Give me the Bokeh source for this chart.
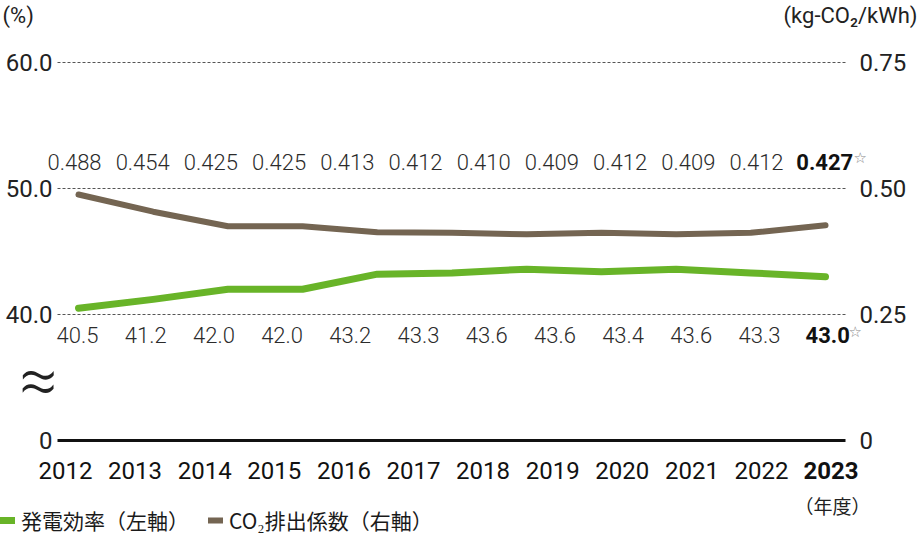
from bokeh.plotting import figure
from bokeh.models import Range1d, ColumnDataSource, Legend, LegendItem
from bokeh.core.properties import value
from bokeh.embed import file_html
from bokeh.resources import INLINE

# ---------------- data ----------------
years = [2012, 2013, 2014, 2015, 2016, 2017, 2018, 2019, 2020, 2021, 2022, 2023]
efficiency = [40.5, 41.2, 42.0, 42.0, 43.2, 43.3, 43.6, 43.6, 43.4, 43.6, 43.3, 43.0]
co2 = [0.488, 0.454, 0.425, 0.425, 0.413, 0.412, 0.410, 0.409, 0.412, 0.409, 0.412, 0.427]
# vertices of the drawn lines as they appear in the picture (11 vertices)
line_eff = [40.5, 41.2, 42.0, 42.0, 43.2, 43.3, 43.6, 43.4, 43.6, 43.3, 43.0]
line_co2 = [0.488, 0.454, 0.425, 0.425, 0.413, 0.412, 0.409, 0.412, 0.409, 0.412, 0.427]
left_ticks = [30, 40, 50, 60]          # 30 stands for the broken-axis "0"
left_tick_labels = ["0", "40.0", "50.0", "60.0"]
right_ticks = [0, 0.25, 0.5, 0.75]
right_tick_labels = ["0", "0.25", "0.50", "0.75"]
grid_ticks = [40, 50, 60]
highlight_year = 2023

# ---------------- layout (pixels) ----------------
W, H = 920, 538
GREEN = "#68b428"
BROWN = "#746552"
LIGHT = "Roboto Light, Roboto"
REG = "Roboto"
JP_FONT = "Noto Sans CJK JP"

YEAR_X0, YEAR_DX = 65.0, 69.6      # year label centres
LAB_X0, LAB_DX = 75.5, 68.2        # value label centres
LINE_X0, LINE_DX = 78.0, 74.7      # line vertices
Y_BASE_PX, Y_PER_UNIT = 440.0, 12.6
PLOT_L, PLOT_R = 57, 845


def X(px):
    return (px - YEAR_X0) / YEAR_DX


def Y(px):
    return 30 + (Y_BASE_PX - px) / Y_PER_UNIT


def rng(x0, dx, size):
    return Range1d(-x0 / dx, (size - x0) / dx)


p = figure(width=W, height=H, output_backend="svg", toolbar_location=None,
           x_range=rng(YEAR_X0, YEAR_DX, W), y_range=Range1d(Y(H), Y(0)),
           min_border=0, x_axis_location=None, y_axis_location=None)
p.outline_line_color = None
p.xgrid.visible = False
p.ygrid.visible = False
p.extra_x_ranges = {"line": rng(LINE_X0, LINE_DX, W), "lab": rng(LAB_X0, LAB_DX, W)}
p.extra_y_ranges = {"right": Range1d((Y(H) - 30) / 40.0, (Y(0) - 30) / 40.0)}

# grid lines and the bottom axis line
n = len(grid_ticks)
p.segment(x0=[X(PLOT_L)] * n, x1=[X(PLOT_R)] * n, y0=grid_ticks, y1=grid_ticks,
          line_color="#555555", line_width=1, line_dash="3 2")
p.segment(x0=[X(PLOT_L)], x1=[X(PLOT_R)], y0=[left_ticks[0]], y1=[left_ticks[0]],
          line_color="#111111", line_width=3)

# tick labels
p.text(x=[X(52)] * len(left_ticks), y=left_ticks, text=left_tick_labels,
       text_align="right", text_baseline="middle", text_font=value(REG),
       text_font_size="24px", text_color="#222222")
p.text(x=[X(859)] * len(right_ticks), y=right_ticks, text=right_tick_labels,
       y_range_name="right", text_align="left", text_baseline="middle", text_font=value(REG),
       text_font_size="24px", text_color="#222222")

# lines
idx = list(range(len(line_eff)))
g = p.line(idx, line_eff, x_range_name="line", line_color=GREEN, line_width=7,
           line_cap="round", line_join="round")
b = p.line(idx, line_co2, x_range_name="line", y_range_name="right", line_color=BROWN,
           line_width=6, line_cap="round", line_join="round")

# value label rows and year labels
pos = list(range(len(years)))
is_hi = [y == highlight_year for y in years]
src = ColumnDataSource(dict(
    i=pos, yr=[str(y) for y in years],
    eff=[f"{v:.1f}" for v in efficiency],
    co2=[f"{v:.3f}" for v in co2],
    fstyle=["bold" if h else "normal" for h in is_hi],
    ffont=[REG if h else LIGHT for h in is_hi],
    tcol=["#111111" if h else "#2b2b2b" for h in is_hi],
    row_top=[Y(161)] * len(years), row_bot=[Y(334)] * len(years),
    row_year=[Y(470)] * len(years)))

p.text(x="i", y="row_top", text="co2", source=src, x_range_name="lab", x_offset=-1.5,
       text_align="center", text_baseline="middle", text_font="ffont",
       text_font_size="22px", text_font_style="fstyle", text_color="tcol")
p.text(x="i", y="row_bot", text="eff", source=src, x_range_name="lab", x_offset=1.5,
       text_align="center", text_baseline="middle", text_font="ffont",
       text_font_size="22px", text_font_style="fstyle", text_color="tcol")
p.text(x="i", y="row_year", text="yr", source=src,
       text_align="center", text_baseline="middle", text_font=value(REG),
       text_font_size="24px", text_font_style="fstyle", text_color="#111111")

# stars on the highlighted values
p.text(x=[X(853), X(848)], y=[Y(157), Y(331)], text=["☆", "☆"], text_align="left",
       text_baseline="middle", text_font=value("DejaVu Sans"), text_font_size="15px",
       text_color="#8a8a8a")

# unit labels, year caption, axis break mark
p.text(x=[X(2)], y=[Y(15)], text=["(%)"], text_align="left", text_baseline="middle",
       text_font=value(REG), text_font_size="22px", text_color="#222222")
p.text(x=[X(917)], y=[Y(15)], text=["(kg-CO₂/kWh)"], text_align="right",
       text_baseline="middle", text_font=value(REG), text_font_size="22px",
       text_color="#222222")
p.text(x=[X(832)], y=[Y(505)], text=["（年度）"], text_align="center", text_baseline="middle",
       text_font=value(JP_FONT), text_font_size="19px", text_color="#222222")
p.text(x=[X(38)], y=[Y(380)], text=["≈"], text_align="center", text_baseline="middle",
       text_font=value(LIGHT), text_font_size="68px", text_color="#222222")

# legend
legend = Legend(items=[LegendItem(label="発電効率（左軸）", renderers=[g]),
                       LegendItem(label="CO₂排出係数（右軸）", renderers=[b])],
                orientation="horizontal", location=(0, 3),
                label_text_font=JP_FONT, label_text_font_size="21px",
                label_text_color="#1a1a1a", glyph_width=15, glyph_height=20,
                label_height=20, label_standoff=6, spacing=19, padding=0, margin=0,
                border_line_color=None, background_fill_alpha=0)
p.add_layout(legend, "center")

open("out.html", "w").write(file_html(p, INLINE))
